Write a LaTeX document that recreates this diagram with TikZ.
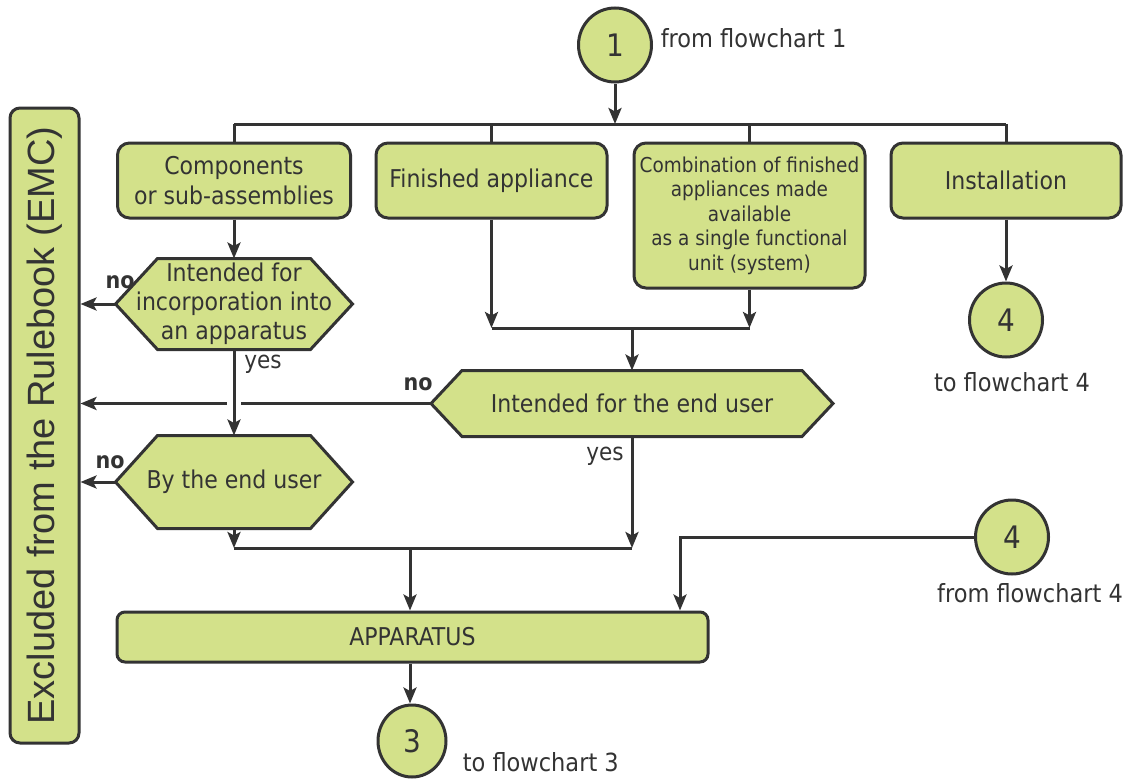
\documentclass[tikz,border=0pt]{standalone}
\usepackage{fontspec}
\setmainfont{DejaVu Sans Condensed}
\newfontfamily\arialfont{Liberation Sans}
\usetikzlibrary{arrows.meta, calc, shapes.geometric, backgrounds}
\definecolor{boxgreen}{HTML}{D3E18A}
\definecolor{lineg}{HTML}{333333}

\begin{document}
\begin{tikzpicture}[x=1pt, y=-1pt, color=lineg, line width=3pt,
  box/.style={rectangle, rounded corners=12pt, draw, fill=boxgreen, align=center,
    inner sep=2pt, font=\fontsize{24.5}{30}\selectfont},
  hexa/.style={rectangle, inner sep=0pt, align=center, font=\fontsize{24.5}{29}\selectfont},
  conn/.style={ellipse, draw, fill=boxgreen, inner sep=0pt, minimum width=73,
    minimum height=74, font=\fontsize{31}{31}\selectfont},
  note/.style={font=\fontsize{25}{28}\selectfont},
  nolbl/.style={font=\fontsize{23}{26}\selectfont\bfseries},
  yeslbl/.style={font=\fontsize{24}{26}\selectfont},
  flow/.style={-{Stealth[length=16pt, width=13pt, inset=3.5pt]}}]
\useasboundingbox (0,0) rectangle (1130,779);

% connectors in and out
\node[conn] (c1) at (615,45) {1};
\node[note, anchor=west] (f1) at (656,38) {from flowchart 1};
\node[conn] (c4a) at (1006,320) {4};
\node[note] (f4a) at (1012,382) {to flowchart 4};
\node[conn] (c4b) at (1012,537) {4};
\node[note] (f4b) at (1030,593) {from flowchart 4};
\node[conn, minimum width=68, minimum height=72] (c3) at (412,741) {3};
\node[note, anchor=west] (f3) at (458,762) {to flowchart 3};

% boxes
\node[box, minimum width=233, minimum height=75] (comp) at (234,180.5) {Components\\or sub-assemblies};
\node[box, minimum width=231, minimum height=75] (fin) at (491.5,180.5) {Finished appliance};
\node[box, minimum width=231, minimum height=145, font=\fontsize{20.5}{24.5}\selectfont] (comb) at (749.5,215.5)
  {Combination of finished\\appliances made\\available\\as a single functional\\unit (system)};
\node[box, minimum width=230, minimum height=75] (inst) at (1006,180.5) {Installation};
\node[box, rounded corners=10pt, minimum width=69, minimum height=635, inner sep=0pt] (rule) at (44.5,425.5)
  {\rotatebox{90}{\arialfont\fontsize{38}{38}\selectfont Excluded from the Rulebook (EMC)}};
\node[box, rounded corners=8pt, minimum width=591, minimum height=50] (app) at (412.5,637) {APPARATUS};

% decisions
\node[hexa, minimum width=234, minimum height=88] (hA) at (234,304) {Intended for\\incorporation into\\an apparatus};
\node[hexa, minimum width=234, minimum height=90] (hB) at (234,482) {By the end user};
\node[hexa, minimum width=399, minimum height=63] (hC) at (632,403.5) {Intended for the end user};
\begin{scope}[on background layer]
\foreach \h/\d in {hA/42, hB/42, hC/31}
  \filldraw[fill=boxgreen, draw=lineg, line width=3pt] (\h.west) -- ($(\h.north west)+(\d,0)$) -- ($(\h.north east)+(-\d,0)$)
    -- (\h.east) -- ($(\h.south east)+(-\d,0)$) -- ($(\h.south west)+(\d,0)$) -- cycle;
\end{scope}

\node[nolbl] (noA) at (120,282) {no};
\node[nolbl] (noB) at (110,462) {no};
\node[nolbl] (noC) at (418,384) {no};
\node[yeslbl] (yesA) at (263,364) {yes};
\node[yeslbl] (yesC) at (605,456) {yes};

\coordinate (t1) at (615,124);
\coordinate (m1) at (632,328);
\coordinate (m2) at (410,548);
\coordinate (k4) at (680,537);

\draw[flow] (c1) -- (t1);
\draw (comp.north |- t1) -- (inst.north |- t1);
\foreach \b in {comp, fin, comb, inst}
  \draw (\b.north |- t1) -- (\b.north);
\draw[flow] (comp) -- (hA);
\draw[flow] (hA.west) -- (hA.west -| rule.east);
\draw[flow] (hB.west) -- (hB.west -| rule.east);
\draw[flow] (hC.west) -- (hC.west -| rule.east);
\draw[white, line width=14pt] ($(hA.south |- hC.west)+(0,-7)$) -- ($(hA.south |- hC.west)+(0,7)$);
\draw[flow] (hA) -- (hB);
\draw[flow] (fin) -- (fin |- m1);
\draw[flow] (comb) -- (comb |- m1);
\draw (fin |- m1) -- (comb |- m1);
\draw[flow] (m1) -- (hC);
\draw[flow] (hB) -- (hB |- m2);
\draw[flow] (hC) -- (hC |- m2);
\draw (hB |- m2) -- (hC |- m2);
\draw[flow] (m2) -- (m2 |- app.north);
\draw[flow] (c4b.west) -- (k4) -- (k4 |- app.north);
\draw[flow] (inst) -- (c4a);
\draw[flow] (app.south -| m2) -- (c3.north -| m2);
\end{tikzpicture}
\end{document}
